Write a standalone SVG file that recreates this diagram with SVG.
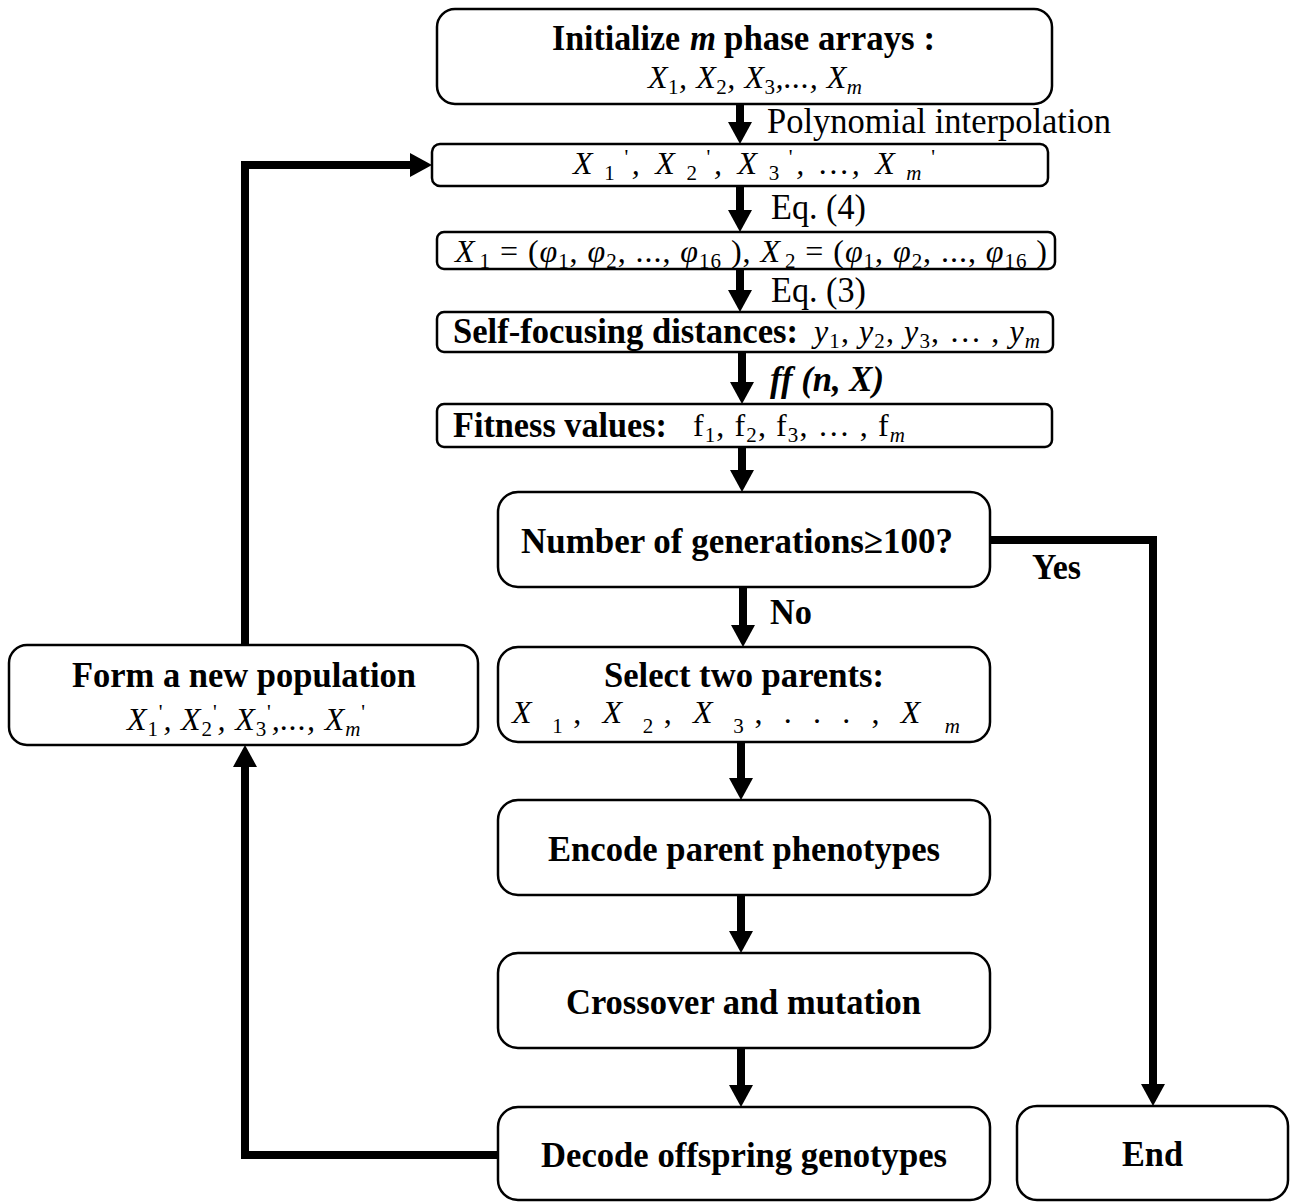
<svg xmlns="http://www.w3.org/2000/svg" width="1295" height="1202" viewBox="0 0 1295 1202">
<style>
.box{fill:#fff;stroke:#000;stroke-width:2.5}
.b{font-family:"Liberation Serif","Times New Roman",serif;font-weight:bold;font-size:36px;fill:#000}
.r{font-family:"Liberation Serif","Times New Roman",serif;font-size:35px;fill:#000}
.m{font-family:"Liberation Serif","Times New Roman",serif;font-style:italic;font-size:32px;fill:#000}
.up{font-style:normal}
.it{font-style:italic}
.sb{font-size:21px}
.conn{fill:none;stroke:#000;stroke-width:8}
</style>
<defs>
<marker id="ah" viewBox="0 0 22 24" refX="0" refY="12" markerWidth="22" markerHeight="24" markerUnits="userSpaceOnUse" orient="auto">
<path d="M0,0 L22,12 L0,24 Z" fill="#000"/>
</marker>
</defs>

<g id="connectors">
<line class="conn" x1="740" y1="104" x2="740" y2="122" marker-end="url(#ah)"/>
<line class="conn" x1="740" y1="186" x2="740" y2="210" marker-end="url(#ah)"/>
<line class="conn" x1="740" y1="269" x2="740" y2="290" marker-end="url(#ah)"/>
<line class="conn" x1="742" y1="352" x2="742" y2="382" marker-end="url(#ah)"/>
<line class="conn" x1="742" y1="447" x2="742" y2="470" marker-end="url(#ah)"/>
<line class="conn" x1="743" y1="587" x2="743" y2="625" marker-end="url(#ah)"/>
<line class="conn" x1="741" y1="742" x2="741" y2="778" marker-end="url(#ah)"/>
<line class="conn" x1="741" y1="895" x2="741" y2="931" marker-end="url(#ah)"/>
<line class="conn" x1="741" y1="1048" x2="741" y2="1085" marker-end="url(#ah)"/>
<polyline class="conn" points="990,540 1153,540 1153,1084" marker-end="url(#ah)"/>
<polyline class="conn" points="498,1155 245,1155 245,767" marker-end="url(#ah)"/>
<polyline class="conn" points="245,645 245,165 410,165" marker-end="url(#ah)"/>
<text class="r" x="767" y="133" textLength="344" lengthAdjust="spacingAndGlyphs">Polynomial interpolation</text>
<text class="r" x="771" y="219" textLength="95" lengthAdjust="spacingAndGlyphs">Eq. (4)</text>
<text class="r" x="771" y="302" textLength="95" lengthAdjust="spacingAndGlyphs">Eq. (3)</text>
<text class="b" x="770" y="391" font-style="italic" textLength="114" lengthAdjust="spacingAndGlyphs">ff (n, X)</text>
<text class="b" x="770" y="624" textLength="42" lengthAdjust="spacingAndGlyphs">No</text>
<text class="b" x="1032" y="579" textLength="49" lengthAdjust="spacingAndGlyphs">Yes</text>
</g>

<g id="init">
<rect class="box" x="437" y="9" width="615" height="95" rx="18"/>
<text class="b" x="552" y="50" textLength="128" lengthAdjust="spacingAndGlyphs">Initialize</text>
<text class="b" x="690" y="50" font-style="italic" textLength="26" lengthAdjust="spacingAndGlyphs">m</text>
<text class="b" x="724" y="50" textLength="211" lengthAdjust="spacingAndGlyphs">phase arrays :</text>
<text class="m" x="648" y="88" textLength="214">X<tspan class="sb up" dy="6">1</tspan><tspan dy="-6">, X</tspan><tspan class="sb up" dy="6">2</tspan><tspan dy="-6">, X</tspan><tspan class="sb up" dy="6">3</tspan><tspan dy="-6">,..., X</tspan><tspan class="sb" dy="6">m</tspan></text>
</g>

<g id="interp">
<rect class="box" x="432" y="144" width="616" height="42" rx="8"/>
<text class="m" x="573" y="174" textLength="362">X<tspan class="sb up" dx="8" dy="6">1</tspan><tspan class="sb up" dx="6" dy="-16">'</tspan><tspan dy="10">, X</tspan><tspan class="sb up" dx="8" dy="6">2</tspan><tspan class="sb up" dx="6" dy="-16">'</tspan><tspan dy="10">, X</tspan><tspan class="sb up" dx="8" dy="6">3</tspan><tspan class="sb up" dx="6" dy="-16">'</tspan><tspan dy="10">, …, X</tspan><tspan class="sb" dx="8" dy="6">m</tspan><tspan class="sb up" dx="6" dy="-16">'</tspan></text>
</g>

<g id="phase">
<rect class="box" x="437" y="232" width="618" height="37" rx="7"/>
<text class="m" x="455" y="262" textLength="592">X<tspan class="sb up" dx="4" dy="6">1</tspan><tspan class="up" dy="-6"> = (</tspan>φ<tspan class="sb up" dy="6">1</tspan><tspan class="up" dy="-6">, </tspan>φ<tspan class="sb up" dy="6">2</tspan><tspan class="up" dy="-6">, ..., </tspan>φ<tspan class="sb up" dy="6">16</tspan><tspan class="up" dy="-6"> ), </tspan>X<tspan class="sb up" dx="4" dy="6">2</tspan><tspan class="up" dy="-6"> = (</tspan>φ<tspan class="sb up" dy="6">1</tspan><tspan class="up" dy="-6">, </tspan>φ<tspan class="sb up" dy="6">2</tspan><tspan class="up" dy="-6">, ..., </tspan>φ<tspan class="sb up" dy="6">16</tspan><tspan class="up" dy="-6"> )</tspan></text>
</g>

<g id="distances">
<rect class="box" x="437" y="312" width="616" height="40" rx="7"/>
<text class="b" x="453" y="343" textLength="345" lengthAdjust="spacingAndGlyphs">Self-focusing distances:</text>
<text class="m" x="814" y="342" font-size="35" textLength="226">y<tspan class="sb up" dy="6">1</tspan><tspan class="up" dy="-6">, </tspan>y<tspan class="sb up" dy="6">2</tspan><tspan class="up" dy="-6">, </tspan>y<tspan class="sb up" dy="6">3</tspan><tspan class="up" dy="-6">, … , </tspan>y<tspan class="sb" dy="6">m</tspan></text>
</g>

<g id="fitness">
<rect class="box" x="437" y="404" width="615" height="43" rx="7"/>
<text class="b" x="453" y="437" textLength="214" lengthAdjust="spacingAndGlyphs">Fitness values:</text>
<text class="m up" x="693" y="436" font-size="35" textLength="212">f<tspan class="sb" dy="6">1</tspan><tspan dy="-6">, f</tspan><tspan class="sb" dy="6">2</tspan><tspan dy="-6">, f</tspan><tspan class="sb" dy="6">3</tspan><tspan dy="-6">, … , f</tspan><tspan class="sb it" dy="6">m</tspan></text>
</g>

<g id="decision">
<rect class="box" x="498" y="492" width="492" height="95" rx="20"/>
<text class="b" x="521" y="553" textLength="432" lengthAdjust="spacingAndGlyphs">Number of generations≥100?</text>
</g>

<g id="select">
<rect class="box" x="498" y="647" width="492" height="95" rx="20"/>
<text class="b" x="604" y="687" textLength="280" lengthAdjust="spacingAndGlyphs">Select two parents:</text>
<text class="m" x="512" y="723" font-size="34" textLength="448">X<tspan class="sb up" dx="14" dy="10">1</tspan><tspan class="up" dx="4" dy="-10">,  </tspan>X<tspan class="sb up" dx="14" dy="10">2</tspan><tspan class="up" dx="4" dy="-10">,  </tspan>X<tspan class="sb up" dx="14" dy="10">3</tspan><tspan class="up" dx="4" dy="-10">, . . . ,  </tspan>X<tspan class="sb" dx="18" dy="10">m</tspan></text>
</g>

<g id="encode">
<rect class="box" x="498" y="800" width="492" height="95" rx="20"/>
<text class="b" x="548" y="861" textLength="392" lengthAdjust="spacingAndGlyphs">Encode parent phenotypes</text>
</g>

<g id="crossover">
<rect class="box" x="498" y="953" width="492" height="95" rx="20"/>
<text class="b" x="566" y="1014" textLength="355" lengthAdjust="spacingAndGlyphs">Crossover and mutation</text>
</g>

<g id="decode">
<rect class="box" x="498" y="1107" width="492" height="93" rx="20"/>
<text class="b" x="541" y="1167" textLength="406" lengthAdjust="spacingAndGlyphs">Decode offspring genotypes</text>
</g>

<g id="end">
<rect class="box" x="1017" y="1106" width="271" height="94" rx="20"/>
<text class="b" x="1122" y="1166" textLength="61" lengthAdjust="spacingAndGlyphs">End</text>
</g>

<g id="newpop">
<rect class="box" x="9" y="645" width="469" height="100" rx="18"/>
<text class="b" x="72" y="687" textLength="344" lengthAdjust="spacingAndGlyphs">Form a new population</text>
<text class="m" x="127" y="730" textLength="238">X<tspan class="sb up" dy="6">1</tspan><tspan class="sb up" dy="-17">'</tspan><tspan dy="11">, X</tspan><tspan class="sb up" dy="6">2</tspan><tspan class="sb up" dy="-17">'</tspan><tspan dy="11">, X</tspan><tspan class="sb up" dy="6">3</tspan><tspan class="sb up" dy="-17">'</tspan><tspan dy="11">,..., X</tspan><tspan class="sb" dy="6">m</tspan><tspan class="sb up" dy="-17">'</tspan></text>
</g>
</svg>
